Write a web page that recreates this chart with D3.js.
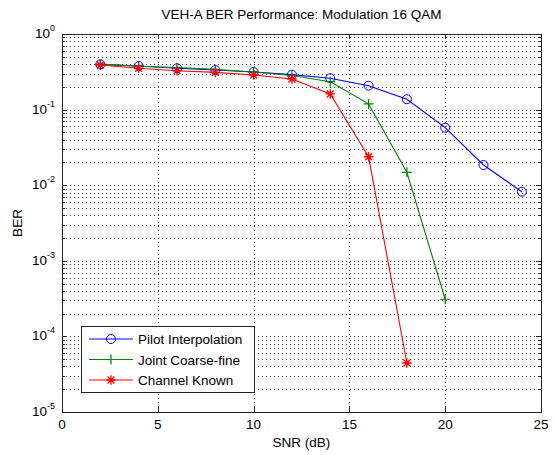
<!DOCTYPE html>
<html>
<head>
<meta charset="utf-8">
<script src="https://cdn.jsdelivr.net/npm/d3@7"></script>
<style>
  html, body { margin: 0; padding: 0; background: #fff; }
  svg text { font-family: "Liberation Sans", Arial, sans-serif; fill: #000; }
</style>
</head>
<body>
<svg id="chart" width="555" height="455"></svg>
<script>
// SNR points (dB) and BER results per receiver
const snrPilot = [2, 4, 6, 8, 10, 12, 14, 16, 18, 20, 22, 24];
const berPilot = [0.397, 0.377, 0.352, 0.334, 0.314, 0.29, 0.26, 0.207, 0.137, 0.0577, 0.0185, 0.0082];

const snrJoint = [2, 4, 6, 8, 10, 12, 14, 16, 18, 20];
const berJoint = [0.40, 0.375, 0.36, 0.34, 0.315, 0.283, 0.234, 0.119, 0.0148, 0.00031];

const snrKnown = [2, 4, 6, 8, 10, 12, 14, 16, 18];
const berKnown = [0.389, 0.352, 0.327, 0.311, 0.287, 0.254, 0.161, 0.0238, 0.0000445];

const seriesNames = ["Pilot Interpolation", "Joint Coarse-fine", "Channel Known"];
const xTicks = [0, 5, 10, 15, 20, 25];
const yExponents = [0, -1, -2, -3, -4, -5];

const title = "VEH-A BER Performance: Modulation 16 QAM";
const xLabel = "SNR (dB)";
const yLabel = "BER";

const FS = 13.5;

const svg = d3.select("#chart");
const plotL = 62, plotR = 541, plotT = 34, plotB = 412;

const x = d3.scaleLinear().domain([0, 25]).range([plotL, plotR]);
const y = d3.scaleLog().domain([1e-5, 1]).range([plotB, plotT]);

// grid: horizontal lines at every decade and its minor subdivisions
const gridG = svg.append("g");
const minorVals = [];
for (let e = -5; e < 0; e++) {
  for (let m = 1; m <= 9; m++) minorVals.push(m * Math.pow(10, e));
}
minorVals.push(1);
gridG.selectAll("line.h").data(minorVals.filter(v => v > 1e-5 && v < 1)).enter()
  .append("line")
  .attr("x1", plotL).attr("x2", plotR)
  .attr("y1", d => Math.round(y(d)) + 0.5).attr("y2", d => Math.round(y(d)) + 0.5)
  .attr("stroke", "#444").attr("stroke-width", 1).attr("stroke-dasharray", "1,3");
gridG.selectAll("line.v").data(xTicks.filter(t => t > 0 && t < 25)).enter()
  .append("line")
  .attr("x1", d => Math.round(x(d)) + 0.5).attr("x2", d => Math.round(x(d)) + 0.5)
  .attr("y1", plotT).attr("y2", plotB)
  .attr("stroke", "#444").attr("stroke-width", 1).attr("stroke-dasharray", "1,3");

// axes box
svg.append("rect")
  .attr("x", plotL + 0.5).attr("y", plotT + 0.5)
  .attr("width", plotR - plotL).attr("height", plotB - plotT)
  .attr("fill", "none").attr("stroke", "#222").attr("stroke-width", 1);

// ticks pointing inward, on all four sides
const tickG = svg.append("g").attr("stroke", "#222").attr("stroke-width", 1);
xTicks.forEach(t => {
  const px = Math.round(x(t)) + 0.5;
  tickG.append("line").attr("x1", px).attr("x2", px).attr("y1", plotB).attr("y2", plotB - 5);
  tickG.append("line").attr("x1", px).attr("x2", px).attr("y1", plotT).attr("y2", plotT + 5);
});
minorVals.forEach(v => {
  const py = Math.round(y(v)) + 0.5;
  const isMajor = Math.abs(Math.log10(v) - Math.round(Math.log10(v))) < 1e-9;
  const len = isMajor ? 5 : 3;
  tickG.append("line").attr("x1", plotL).attr("x2", plotL + len).attr("y1", py).attr("y2", py);
  tickG.append("line").attr("x1", plotR).attr("x2", plotR - len).attr("y1", py).attr("y2", py);
});

// x tick labels
svg.append("g").selectAll("text").data(xTicks).enter()
  .append("text")
  .attr("x", d => x(d)).attr("y", plotB + 17)
  .attr("text-anchor", "middle").attr("font-size", FS)
  .text(d => d);

// y tick labels as 10 with superscript exponent
yExponents.forEach(e => {
  const t = svg.append("text")
    .attr("x", plotL - 7).attr("y", y(Math.pow(10, e)) + 4)
    .attr("text-anchor", "end").attr("font-size", FS);
  t.append("tspan").text("10");
  t.append("tspan").attr("dy", -7).attr("font-size", 9).text(e);
});

// title and axis labels
svg.append("text").attr("x", (plotL + plotR) / 2).attr("y", 19)
  .attr("text-anchor", "middle").attr("font-size", FS).text(title);
svg.append("text").attr("x", (plotL + plotR) / 2).attr("y", plotB + 35)
  .attr("text-anchor", "middle").attr("font-size", FS).text(xLabel);
svg.append("text")
  .attr("transform", `translate(22,${(plotT + plotB) / 2}) rotate(-90)`)
  .attr("text-anchor", "middle").attr("font-size", FS).text(yLabel);

// marker shapes
function drawMarker(g, type, cx, cy, color) {
  if (type === "circle") {
    g.append("circle").attr("cx", cx).attr("cy", cy).attr("r", 4.5)
      .attr("fill", "none").attr("stroke", color).attr("stroke-width", 1);
  } else if (type === "plus") {
    g.append("path").attr("d", `M${cx - 5},${cy}H${cx + 5}M${cx},${cy - 5}V${cy + 5}`)
      .attr("stroke", color).attr("stroke-width", 1.2).attr("fill", "none");
  } else {
    const r = 4.8, d = r * 0.72;
    g.append("path")
      .attr("d", `M${cx - r},${cy}H${cx + r}M${cx},${cy - r}V${cy + r}` +
                 `M${cx - d},${cy - d}L${cx + d},${cy + d}M${cx - d},${cy + d}L${cx + d},${cy - d}`)
      .attr("stroke", color).attr("stroke-width", 1.3).attr("fill", "none");
  }
}

const series = [
  { name: seriesNames[0], snr: snrPilot, ber: berPilot, color: "#0000ff", marker: "circle" },
  { name: seriesNames[1], snr: snrJoint, ber: berJoint, color: "#008000", marker: "plus" },
  { name: seriesNames[2], snr: snrKnown, ber: berKnown, color: "#ff0000", marker: "star" }
];

const line = d3.line().x(d => x(d[0])).y(d => y(d[1]));

series.forEach(s => {
  const pts = s.snr.map((v, i) => [v, s.ber[i]]);
  const g = svg.append("g");
  g.append("path").attr("d", line(pts))
    .attr("fill", "none").attr("stroke", s.color).attr("stroke-width", 1.1);
  pts.forEach(p => drawMarker(g, s.marker, x(p[0]), y(p[1]), s.color));
});

// legend
const lg = svg.append("g");
lg.append("rect").attr("x", 81.5).attr("y", 326.5).attr("width", 173).attr("height", 66)
  .attr("fill", "#fff").attr("stroke", "#222").attr("stroke-width", 1);
series.forEach((s, i) => {
  const ly = 339 + i * 20.5;
  lg.append("line").attr("x1", 89).attr("x2", 133).attr("y1", ly).attr("y2", ly)
    .attr("stroke", s.color).attr("stroke-width", 1.1);
  drawMarker(lg, s.marker, 111, ly, s.color);
  lg.append("text").attr("x", 138).attr("y", ly + 5).attr("font-size", FS).text(s.name);
});
</script>
</body>
</html>
